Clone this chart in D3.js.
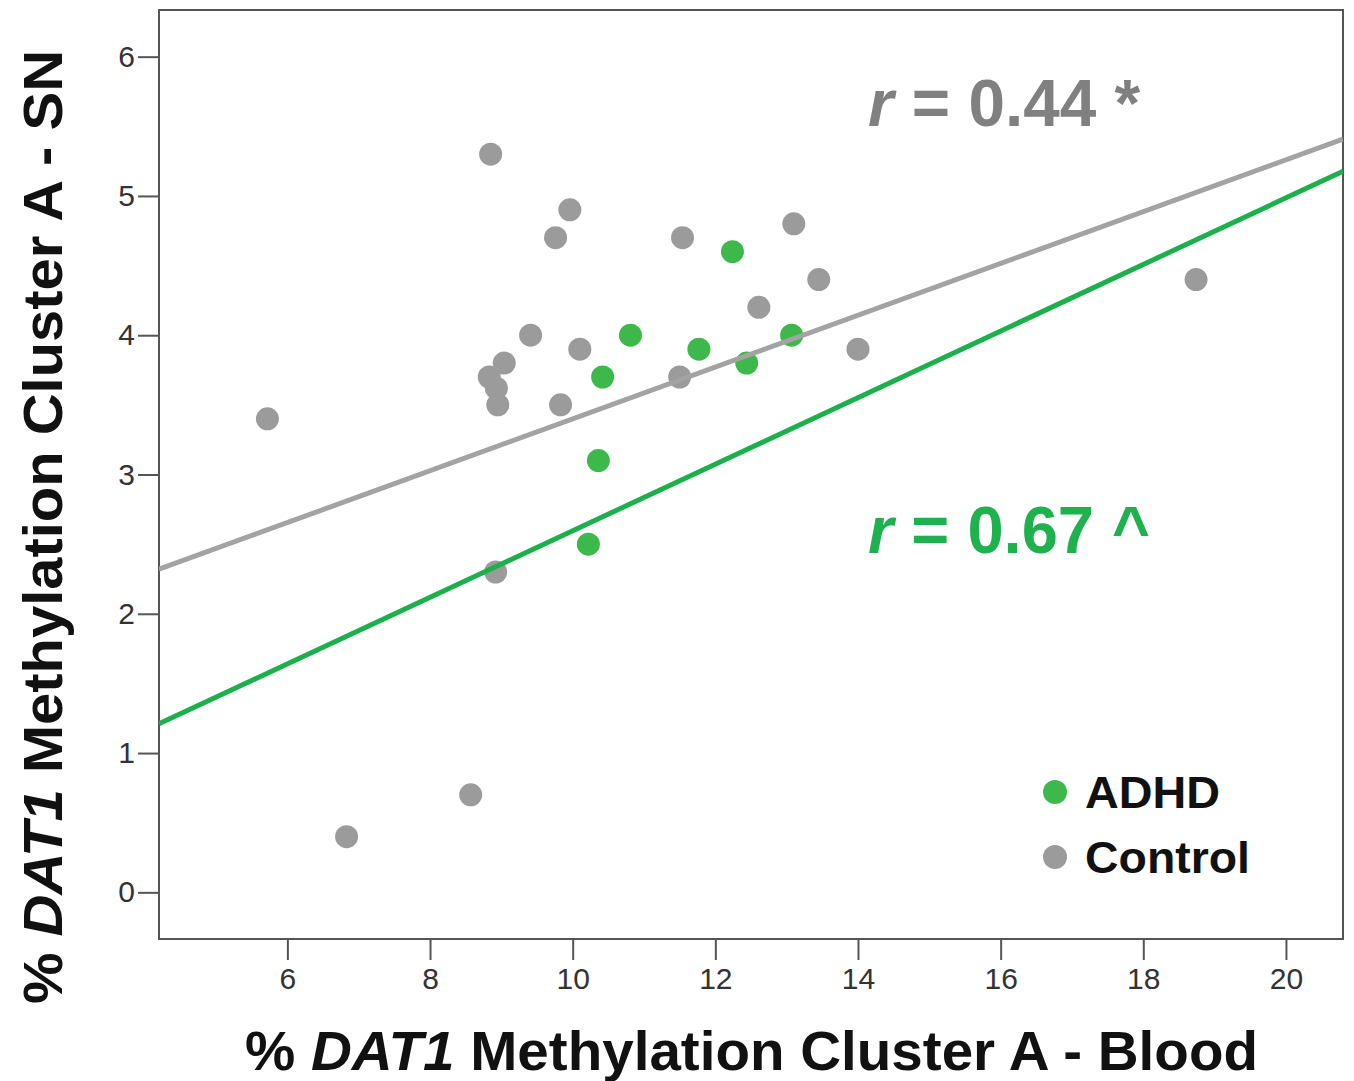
<!DOCTYPE html>
<html>
<head>
<meta charset="utf-8">
<script src="https://cdn.jsdelivr.net/npm/d3@7"></script>
<style>
  html, body { margin: 0; padding: 0; background: #fff; }
  svg { display: block; }
</style>
</head>
<body>
<svg id="chart" width="1354" height="1081"></svg>
<script>
// ---- data ----
const adhdX = [12.24, 10.81, 11.77, 10.42, 12.44, 13.07, 10.36, 10.22];
const adhdY = [4.6, 4.0, 3.9, 3.7, 3.8, 4.0, 3.1, 2.5];

const controlX = [5.72, 6.83, 8.57, 8.85, 9.96, 9.76, 11.54, 13.10, 13.45, 12.61, 9.41, 10.10, 14.0, 9.04, 11.50, 9.83, 18.74, 8.92, 8.83, 8.93, 8.95];
const controlY = [3.4, 0.4, 0.7, 5.3, 4.9, 4.7, 4.7, 4.8, 4.4, 4.2, 4.0, 3.9, 3.9, 3.8, 3.7, 3.5, 4.4, 2.3, 3.7, 3.62, 3.5];

// fitted regression lines: [intercept, slope]
const controlFit = [1.539, 0.186];
const adhdFit = [0.206, 0.239];

const xTicks = [6, 8, 10, 12, 14, 16, 18, 20];
const yTicks = [0, 1, 2, 3, 4, 5, 6];
const xDomain = [4.2, 20.8];
const yDomain = [-0.335, 6.335];

const rLabels = ["0.44 *", "0.67 ^"];
const groupNames = ["ADHD", "Control"];

// ---- styles ----
const GREEN_PT = "#3db84a", GREEN_LINE = "#1cb04c", GREEN_TXT = "#1fb14e";
const GRAY_PT = "#9b9b9b", GRAY_LINE = "#a3a3a3", GRAY_TXT = "#808080";

const L = 159, T = 10, R = 1343, B = 939;
const svg = d3.select("#chart");

const x = d3.scaleLinear().domain(xDomain).range([L, R]);
const y = d3.scaleLinear().domain(yDomain).range([B, T]);

svg.append("defs").append("clipPath").attr("id", "clip")
  .append("rect").attr("x", L).attr("y", T).attr("width", R - L).attr("height", B - T);

// frame
svg.append("rect").attr("x", L).attr("y", T).attr("width", R - L).attr("height", B - T)
  .attr("fill", "none").attr("stroke", "#555").attr("stroke-width", 2);

// axes
const xAxis = svg.append("g").attr("transform", `translate(0,${B})`)
  .call(d3.axisBottom(x).tickValues(xTicks).tickSize(21).tickPadding(8).tickFormat(d3.format("d")));
const yAxis = svg.append("g").attr("transform", `translate(${L},0)`)
  .call(d3.axisLeft(y).tickValues(yTicks).tickSize(21).tickPadding(3).tickFormat(d3.format("d")));
[xAxis, yAxis].forEach(g => {
  g.select(".domain").remove();
  g.selectAll(".tick line").attr("stroke", "#555").attr("stroke-width", 2);
  g.selectAll(".tick text").attr("fill", "#333")
    .style("font-family", "'Liberation Sans', Arial, sans-serif").style("font-size", "30px");
});
xAxis.selectAll(".tick text").attr("dy", "0.71em");

const plot = svg.append("g").attr("clip-path", "url(#clip)");

// points
const controlPts = controlX.map((v, i) => [v, controlY[i]]);
const adhdPts = adhdX.map((v, i) => [v, adhdY[i]]);
plot.selectAll("circle.ctrl").data(controlPts).join("circle").attr("class", "ctrl")
  .attr("cx", d => x(d[0])).attr("cy", d => y(d[1])).attr("r", 11.5).attr("fill", GRAY_PT);
plot.selectAll("circle.adhd").data(adhdPts).join("circle").attr("class", "adhd")
  .attr("cx", d => x(d[0])).attr("cy", d => y(d[1])).attr("r", 11.5).attr("fill", GREEN_PT);

// fit lines
const line = d3.line().x(d => x(d[0])).y(d => y(d[1]));
[[controlFit, GRAY_LINE], [adhdFit, GREEN_LINE]].forEach(([f, c]) => {
  const pts = xDomain.map(v => [v, f[0] + f[1] * v]);
  plot.append("path").attr("d", line(pts)).attr("fill", "none")
    .attr("stroke", c).attr("stroke-width", 5);
});

// r annotations
const font = "'Liberation Sans', Arial, Helvetica, sans-serif";
function rText(xp, yp, val, color, w) {
  const t = svg.append("text").attr("x", xp).attr("y", yp)
    .attr("fill", color).style("font-family", font).style("font-weight", "bold").style("font-size", "67px")
    .attr("textLength", w).attr("lengthAdjust", "spacingAndGlyphs");
  t.append("tspan").style("font-style", "italic").text("r");
  t.append("tspan").text(" = " + val);
}
rText(868, 126, rLabels[0], GRAY_TXT, 272);
rText(868, 553, rLabels[1], GREEN_TXT, 282);

// legend
const legend = [[groupNames[0], GREEN_PT, 792, 135], [groupNames[1], GRAY_PT, 857, 165]];
legend.forEach(([name, c, yy, w]) => {
  svg.append("circle").attr("cx", 1055).attr("cy", yy).attr("r", 12).attr("fill", c);
  svg.append("text").attr("x", 1085).attr("y", yy + 16).attr("fill", "#111")
    .attr("textLength", w).attr("lengthAdjust", "spacingAndGlyphs")
    .style("font-family", font).style("font-weight", "bold").style("font-size", "44px").text(name);
});

// axis titles
function title(sel, tail) {
  sel.style("font-family", font).style("font-weight", "bold").style("font-size", "56px").attr("fill", "#111");
  sel.append("tspan").text("% ");
  sel.append("tspan").style("font-style", "italic").text("DAT1");
  sel.append("tspan").text(" Methylation Cluster A - " + tail);
}
const xt = svg.append("text").attr("x", 245).attr("y", 1070)
  .attr("textLength", 1013).attr("lengthAdjust", "spacingAndGlyphs");
title(xt, "Blood");
const yt = svg.append("text").attr("transform", "translate(62,1004) rotate(-90)")
  .attr("textLength", 954).attr("lengthAdjust", "spacingAndGlyphs");
title(yt, "SN");
</script>
</body>
</html>
